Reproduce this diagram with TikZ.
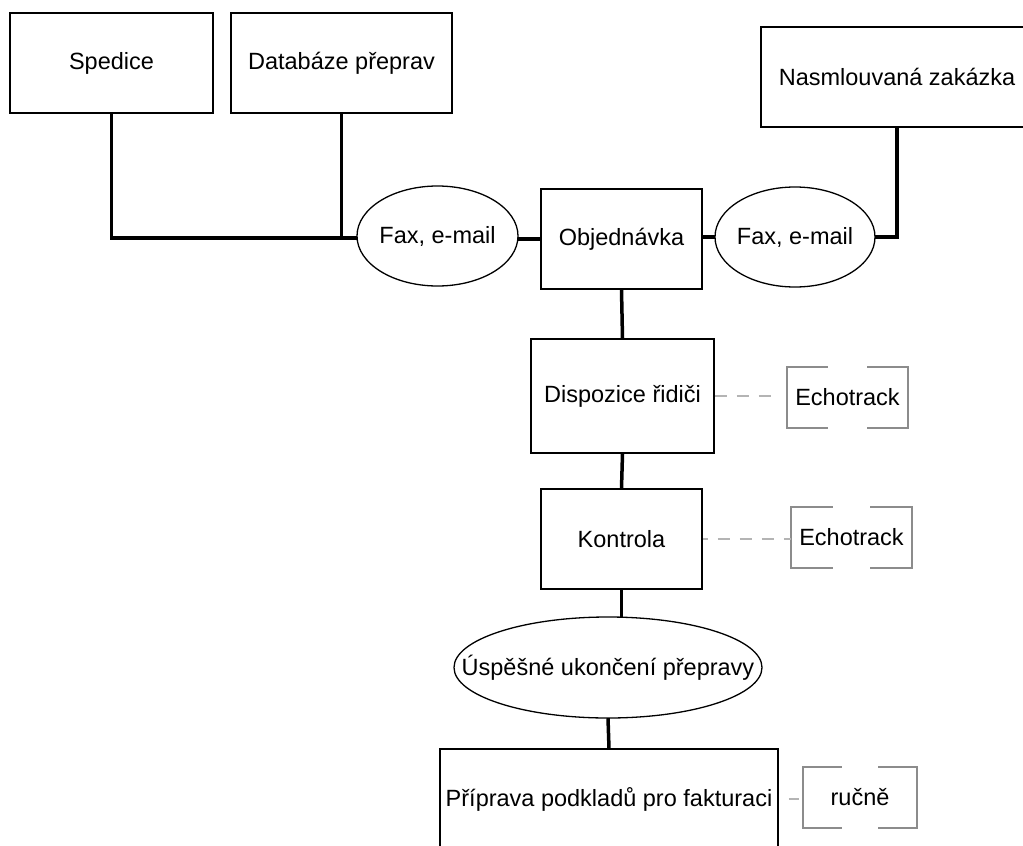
\documentclass[tikz,border=0pt]{standalone}
\usepackage{fontspec}
\setmainfont{Liberation Sans}
\definecolor{brk}{HTML}{8C8C8C}
\definecolor{dsh}{HTML}{B4B4B4}
\tikzset{
  every node/.style={font=\fontsize{23.5}{28}\selectfont, inner sep=0pt},
  boxnode/.style={draw=black, line width=1.5pt, rectangle},
  ellnode/.style={rectangle},
  ellline/.style={draw=black, line width=1.3pt},
  brknode/.style={rectangle},
  conn/.style={draw=black, line width=3.5pt},
  dshline/.style={draw=dsh, line width=2pt, dash pattern=on 12pt off 10pt},
  brkline/.style={draw=brk, line width=1.5pt},
}
\begin{document}
\begin{tikzpicture}[x=1pt, y=-1pt]
\useasboundingbox (0,0) rectangle (1023,846);
\fill[white] (0,0) rectangle (1023,846);
\clip (0,0) rectangle (1023,846);
% nodes
\node[boxnode, minimum width=203pt, minimum height=100pt] (sp) at (111.5,63) {Spedice};
\node[boxnode, minimum width=221pt, minimum height=100pt] (db) at (341.5,63) {Databáze přeprav};
\node[boxnode, minimum width=272pt, minimum height=100pt] (nm) at (897,77) {Nasmlouvaná zakázka};
\node[ellnode, minimum width=161pt, minimum height=100pt] (e1) at (437.5,236) {Fax, e-mail};
\node[boxnode, minimum width=161pt, minimum height=100pt] (ob) at (621.5,239) {Objednávka};
\node[ellnode, minimum width=160pt, minimum height=100pt] (e2) at (795,237) {Fax, e-mail};
\node[boxnode, minimum width=183pt, minimum height=114pt] (dz) at (622.5,396) {Dispozice řidiči};
\node[brknode, minimum width=121pt, minimum height=61pt] (ec1) at (847.5,397.5) {Echotrack};
\node[boxnode, minimum width=161pt, minimum height=100pt] (ko) at (621.5,539) {Kontrola};
\node[brknode, minimum width=121pt, minimum height=61pt] (ec2) at (851.5,537.5) {Echotrack};
\node[ellnode, minimum width=308pt, minimum height=101pt] (e3) at (608,667.5) {Úspěšné ukončení přepravy};
\node[boxnode, minimum width=338pt, minimum height=100pt] (pp) at (609,799) {Příprava podkladů pro fakturaci};
\node[brknode, minimum width=114pt, minimum height=61pt] (ru) at (860,797.5) {ručně};
% ellipse outlines
\draw[ellline] (e1.center) ellipse [x radius=80.5pt, y radius=50pt];
\draw[ellline] (e2.center) ellipse [x radius=80pt, y radius=50pt];
\draw[ellline] (e3.center) ellipse [x radius=154pt, y radius=50.5pt];
% brackets
\foreach \n/\a in {ec1/41, ec2/42, ru/39}{
  \draw[brkline] ([xshift=\a pt]\n.north west) -- (\n.north west) -- (\n.south west) -- ([xshift=\a pt]\n.south west);
  \draw[brkline] ([xshift=-\a pt]\n.north east) -- (\n.north east) -- (\n.south east) -- ([xshift=-\a pt]\n.south east);
}
% connectors
\draw[conn] (sp.south) |- ([yshift=-2pt]e1.west);
\draw[conn] (db.south) |- ([yshift=-2pt]e1.west);
\draw[conn] (e1.east |- ob.west) -- (ob.west);
\draw[conn] (ob.east |- e2.west) -- (e2.west);
\draw[conn] (e2.east) -| (nm.south);
\draw[conn] (ob.south) -- (dz.north);
\draw[conn] (dz.south) -- (ko.north);
\draw[conn] (ko.south) -- (ko.south |- e3.north);
\draw[conn] (e3.south) -- (pp.north);
\draw[dshline] (dz.east) -- ([xshift=-9pt]ec1.west |- dz.east);
\draw[dshline, dash phase=7pt] (ko.east) -- (ko.east -| ec2.west);
\draw[dshline, dash pattern=on 0pt off 10pt on 10pt off 20pt] (pp.east) -- (pp.east -| ru.west);
\end{tikzpicture}
\end{document}
